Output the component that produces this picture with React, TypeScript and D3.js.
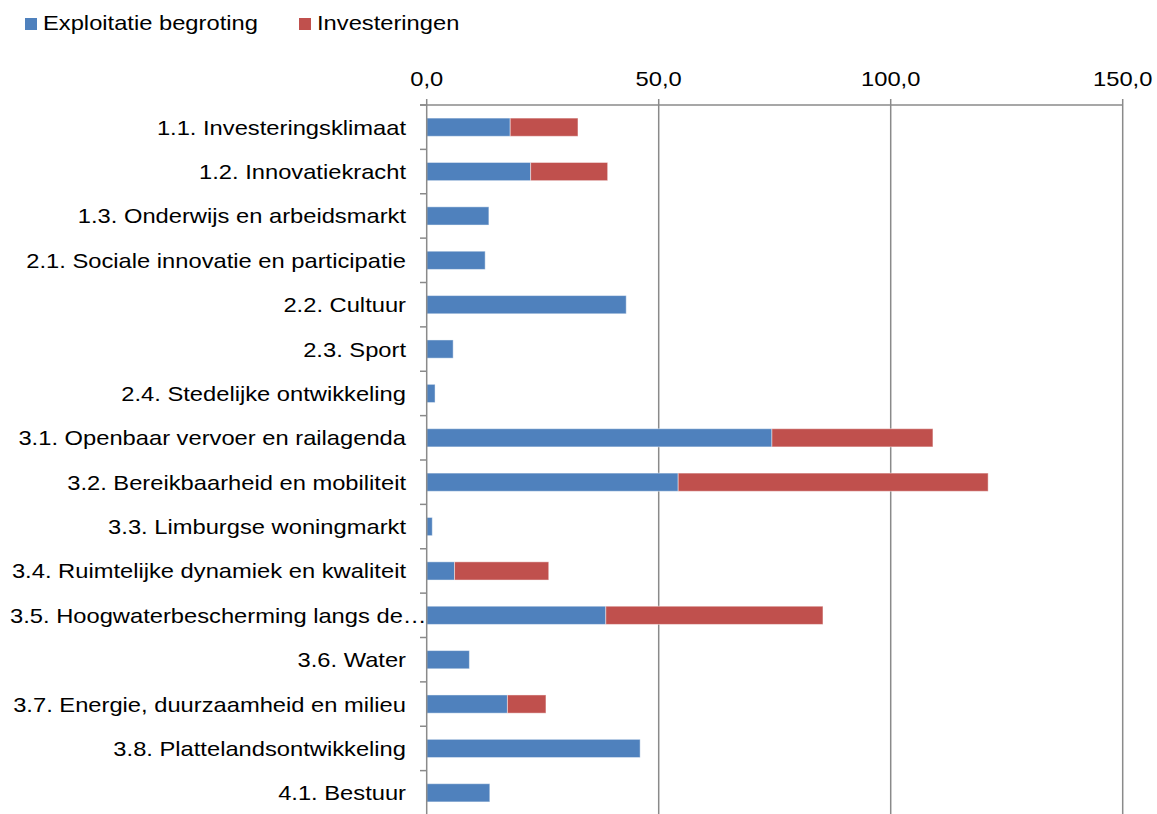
import React from "react";
import * as d3 from "d3";

const categories = [
  "1.1. Investeringsklimaat",
  "1.2. Innovatiekracht",
  "1.3. Onderwijs en arbeidsmarkt",
  "2.1. Sociale innovatie en participatie",
  "2.2. Cultuur",
  "2.3. Sport",
  "2.4. Stedelijke ontwikkeling",
  "3.1. Openbaar vervoer en railagenda",
  "3.2. Bereikbaarheid en mobiliteit",
  "3.3. Limburgse woningmarkt",
  "3.4. Ruimtelijke dynamiek en kwaliteit",
  "3.5. Hoogwaterbescherming langs de…",
  "3.6. Water",
  "3.7. Energie, duurzaamheid en milieu",
  "3.8. Plattelandsontwikkeling",
  "4.1. Bestuur",
];

const exploitatie = [18.0, 22.4, 13.4, 12.6, 43.0, 5.7, 1.8, 74.4, 54.2, 1.2, 6.0, 38.6, 9.2, 17.4, 46.0, 13.6];
const investeringen = [14.6, 16.6, 0, 0, 0, 0, 0, 34.7, 66.8, 0, 20.3, 46.8, 0, 8.3, 0, 0];

const ticks = [0, 50, 100, 150];
const tickLabels = ["0,0", "50,0", "100,0", "150,0"];

const seriesNames = ["Exploitatie begroting", "Investeringen"];
const colors = ["#4F81BD", "#C0504D"];

const W = 1157;
const H = 814;
const FONT = "'Liberation Sans', Arial, sans-serif";
const SX = 1.13;

export default function App() {
  const x = d3.scaleLinear().domain([0, 150]).range([426.7, 1122.7]);
  const y = d3
    .scaleBand<string>()
    .domain(categories)
    .range([105, 815])
    .paddingInner(0.59)
    .paddingOuter(0.295);
  const step = y.step();
  const top = 105;
  const bottom = 815;
  const gridColor = "#8a8a8a";

  const stacked = categories.map((c, i) => {
    const a = exploitatie[i];
    const b = investeringen[i];
    return [
      { c, x0: 0, x1: a, color: colors[0] },
      { c, x0: a, x1: a + b, color: colors[1] },
    ];
  });

  return (
    <svg
      width={W}
      height={H}
      style={{ position: "absolute", left: 0, top: 0, background: "#fff" }}
      fontFamily={FONT}
    >
      <rect x={0} y={0} width={W} height={H} fill="#fff" />
      {/* legend */}
      <rect x={25} y={18} width={12} height={12} fill={colors[0]} />
      <text transform={`translate(43,30) scale(${SX},1)`} fontSize={21} fill="#000">
        {seriesNames[0]}
      </text>
      <rect x={299} y={18} width={12} height={12} fill={colors[1]} />
      <text transform={`translate(317,30) scale(${SX},1)`} fontSize={21} fill="#000">
        {seriesNames[1]}
      </text>

      {/* gridlines */}
      {ticks.slice(1).map((t) => (
        <line key={t} x1={x(t)} x2={x(t)} y1={top} y2={bottom} stroke={gridColor} strokeWidth={1.5} />
      ))}

      {/* top axis */}
      <line x1={420} x2={x(150)} y1={top} y2={top} stroke={gridColor} strokeWidth={1.5} />
      {ticks.map((t, i) => (
        <g key={t}>
          <line x1={x(t)} x2={x(t)} y1={top - 6} y2={top} stroke={gridColor} strokeWidth={1.5} />
          <text
            transform={`translate(${x(t)},86) scale(${SX},1)`}
            fontSize={21}
            textAnchor="middle"
            fill="#000"
          >
            {tickLabels[i]}
          </text>
        </g>
      ))}

      {/* bars */}
      {stacked.map((segs, i) =>
        segs.map((s, j) =>
          s.x1 > s.x0 ? (
            <rect
              key={`${i}-${j}`}
              x={x(s.x0)}
              y={y(s.c)!}
              width={x(s.x1) - x(s.x0)}
              height={y.bandwidth()}
              fill={s.color}
              stroke="rgba(255,255,255,0.45)"
              strokeWidth={1}
            />
          ) : null
        )
      )}

      {/* left axis */}
      <line x1={x(0)} x2={x(0)} y1={top} y2={bottom} stroke={gridColor} strokeWidth={1.5} />
      {d3.range(categories.length + 1).map((k) => (
        <line
          key={k}
          x1={420}
          x2={x(0)}
          y1={top + k * step}
          y2={top + k * step}
          stroke={gridColor}
          strokeWidth={1.5}
        />
      ))}

      {/* category labels */}
      {categories.map((c) => {
        const truncated = c.endsWith("…");
        const yy = y(c)! + y.bandwidth() / 2 + 7.5;
        return (
          <text
            key={c}
            transform={`translate(${truncated ? 10 : 406},${yy}) scale(${SX},1)`}
            fontSize={21}
            textAnchor={truncated ? "start" : "end"}
            fill="#000"
          >
            {c}
          </text>
        );
      })}
    </svg>
  );
}
